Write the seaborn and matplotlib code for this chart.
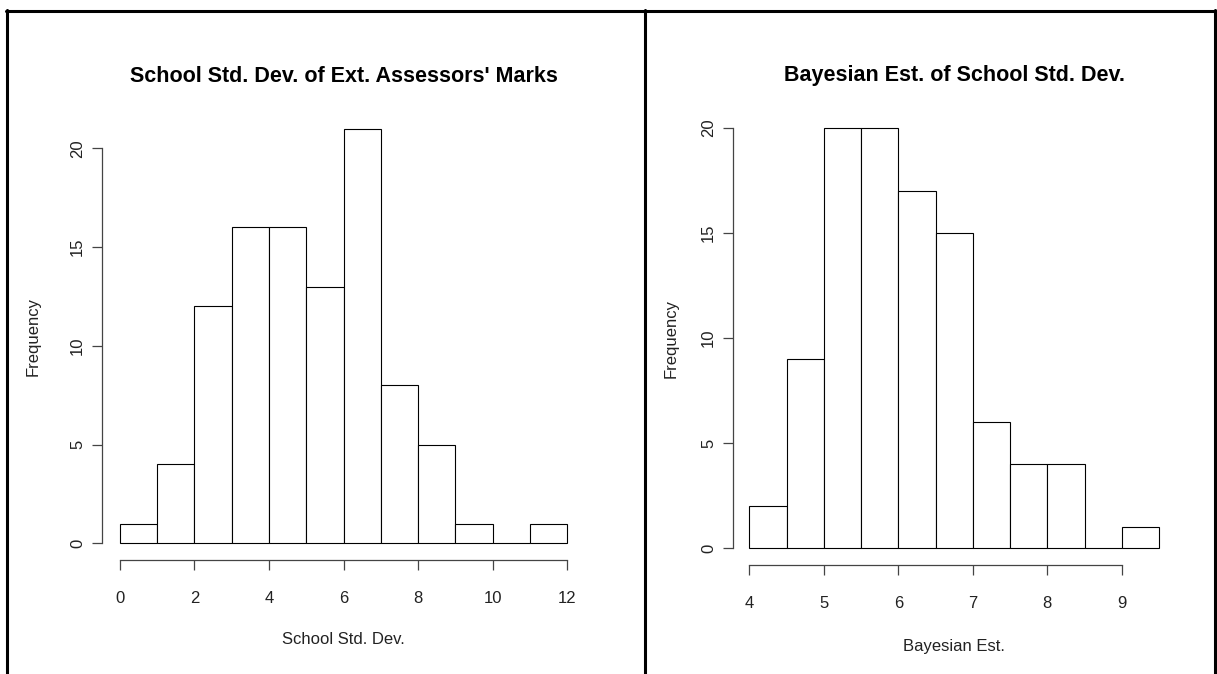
import matplotlib
matplotlib.use('Agg')
import matplotlib.pyplot as plt
import seaborn as sns
import numpy as np
import pandas as pd
from matplotlib.lines import Line2D

# histogram bins and counts
school_edges = [0, 1, 2, 3, 4, 5, 6, 7, 8, 9, 10, 11, 12]
school_counts = [1, 4, 12, 16, 16, 13, 21, 8, 5, 1, 0, 1]
school_xticks = [0, 2, 4, 6, 8, 10, 12]
school_yticks = [0, 5, 10, 15, 20]

bayes_edges = [4, 4.5, 5, 5.5, 6, 6.5, 7, 7.5, 8, 8.5, 9, 9.5]
bayes_counts = [2, 9, 20, 20, 17, 15, 6, 4, 4, 0, 1]
bayes_xticks = [4, 5, 6, 7, 8, 9]
bayes_yticks = [0, 5, 10, 15, 20]

sns.set_theme(style='white')
plt.rcParams['font.family'] = ['Liberation Sans', 'DejaVu Sans']

W, H = 1217, 674
fig = plt.figure(figsize=(W / 100, H / 100), dpi=100)


def px_axes(l, r, b, t):
    return fig.add_axes([l / W, 1 - b / H, (r - l) / W, (b - t) / H])


def draw_hist(ax, edges, counts, xticks, yticks, title, xlabel, title_y, xlab_y, ylab_x):
    e = np.array(edges, dtype=float)
    df = pd.DataFrame({'x': (e[:-1] + e[1:]) / 2, 'n': counts})
    sns.histplot(data=df, x='x', weights='n', bins=list(edges), ax=ax, color='white',
                 edgecolor='black', linewidth=0.8, alpha=1)
    # R style axis ranges (4% padding)
    xr = e[-1] - e[0]
    ax.set_xlim(e[0] - 0.04 * xr, e[-1] + 0.04 * xr)
    ymax = max(counts)
    ax.set_ylim(-0.04 * ymax, ymax * 1.04)
    sns.despine(ax=ax)
    ax.spines['left'].set_bounds(yticks[0], yticks[-1])
    ax.spines['bottom'].set_bounds(xticks[0], xticks[-1])
    for s in ['left', 'bottom']:
        ax.spines[s].set_color('#444444')
        ax.spines[s].set_linewidth(0.9)
    ax.set_xticks(xticks)
    ax.set_yticks(yticks)
    ax.tick_params(axis='both', direction='out', length=7.2, width=0.9, color='#444444',
                   labelsize=12, labelcolor='#222222', bottom=True, left=True)
    ax.tick_params(axis='x', pad=15)
    ax.tick_params(axis='y', pad=5)
    for lab in ax.get_yticklabels():
        lab.set_rotation(90)
        lab.set_va('center')
    ax.set_title(title, fontsize=15.5, fontweight='bold', color='black',
                 y=title_y, va='center', pad=0)
    ax.set_xlabel(xlabel, fontsize=12, color='#222222')
    ax.set_ylabel('Frequency', fontsize=12, color='#222222')
    ax.xaxis.set_label_coords(0.5, xlab_y)
    ax.yaxis.set_label_coords(ylab_x, 0.5)
    ax.yaxis.label.set_va('center')
    ax.xaxis.label.set_va('center')


ax1 = px_axes(102, 585, 560, 112)
draw_hist(ax1, school_edges, school_counts, school_xticks, school_yticks,
          "School Std. Dev. of Ext. Assessors' Marks", 'School Std. Dev.',
          (560 - 76) / 448, (561 - 641) / 448, -69 / 483)

ax2 = px_axes(733, 1175.5, 565, 111)
draw_hist(ax2, bayes_edges, bayes_counts, bayes_xticks, bayes_yticks,
          'Bayesian Est. of School Std. Dev.', 'Bayesian Est.',
          (565 - 76) / 454, (565 - 646) / 454, -62 / 442.5)

# panel frame lines
frame = [((6, 1216.5), (10.5, 10.5)), ((7.3, 7.3), (10, 674)),
         ((645.4, 645.4), (10, 674)), ((1215.3, 1215.3), (10, 674))]
for xs, ys in frame:
    fig.add_artist(Line2D([x / W for x in xs], [1 - y / H for y in ys],
                          transform=fig.transFigure, color='black', lw=2.2))

fig.savefig('out.png', dpi=100)
